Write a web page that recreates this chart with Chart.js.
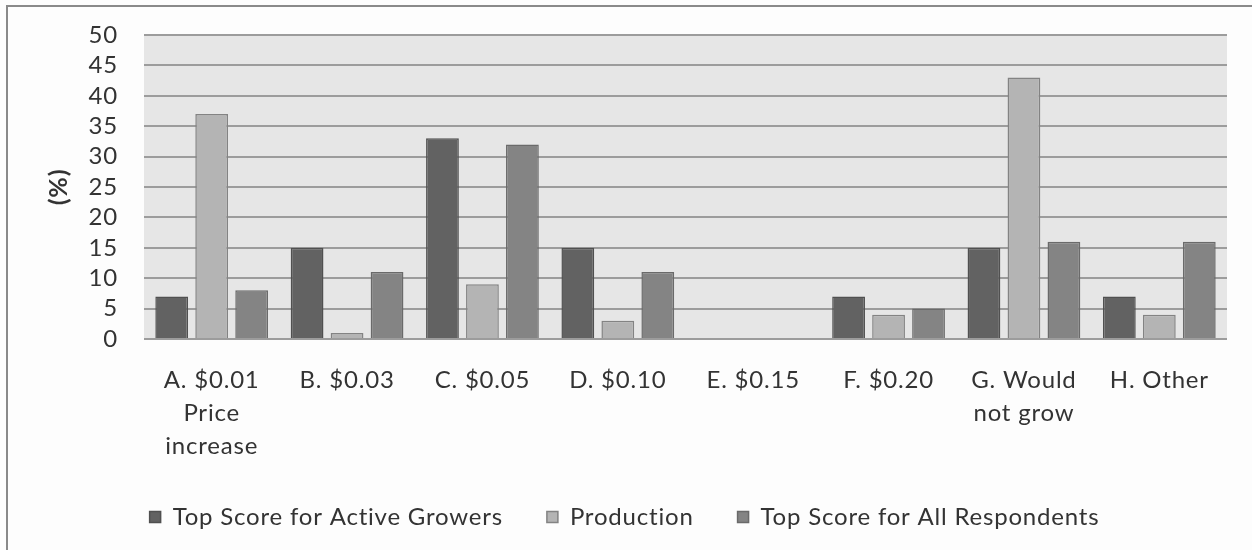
<!DOCTYPE html>
<html>
<head>
<meta charset="utf-8">
<script src="https://cdn.jsdelivr.net/npm/chart.js@4"></script>
<style>
  html, body { margin: 0; padding: 0; background: #fdfdfd; }
  #wrap { position: relative; width: 1252px; height: 550px; }
  #frame { position: absolute; left: 6px; top: 5px; right: -4px; bottom: -4px;
           border-left: 2px solid #8a8a8a; border-top: 2px solid #8a8a8a; pointer-events: none; }
  canvas { position: absolute; left: 0; top: 0; }
</style>
</head>
<body>
<div id="wrap">
  <canvas id="c" width="1252" height="550"></canvas>
  <div id="frame"></div>
</div>
<script>
// Categories (multi-line tick labels)
const categories = [
  ["A. $0.01", "Price", "increase"],
  ["B. $0.03"],
  ["C. $0.05"],
  ["D. $0.10"],
  ["E. $0.15"],
  ["F. $0.20"],
  ["G. Would", "not grow"],
  ["H. Other"]
];

// Series values (%)
const activeGrowers  = [7, 15, 33, 15, 0, 7, 15, 7];
const production     = [37, 1, 9, 3, 0, 4, 43, 4];
const allRespondents = [8, 11, 32, 11, 0, 5, 16, 16];

const seriesNames = ["Top Score for Active Growers", "Production", "Top Score for All Respondents"];

const FONT = "Lato, 'Open Sans', sans-serif";
const TEXT = "#333333";

// Slightly wider text spacing for all chart labels
const textSpacing = {
  id: "textSpacing",
  beforeInit(chart) { chart.ctx.letterSpacing = "0.8px"; },
  beforeLayout(chart) { chart.ctx.letterSpacing = "0.8px"; },
  beforeDraw(chart) { chart.ctx.letterSpacing = "0.8px"; }
};

// Light grey plot background behind the bars
const plotBackground = {
  id: "plotBackground",
  beforeDraw(chart) {
    const a = chart.chartArea, ctx = chart.ctx;
    ctx.save();
    ctx.fillStyle = "#e6e6e6";
    ctx.fillRect(a.left, a.top, a.right - a.left, a.bottom - a.top);
    ctx.restore();
  }
};

new Chart(document.getElementById("c"), {
  type: "bar",
  data: {
    labels: categories,
    datasets: [
      { label: seriesNames[0], data: activeGrowers,  backgroundColor: "#626262", borderColor: "#505050", borderWidth: 1.5 },
      { label: seriesNames[1], data: production,     backgroundColor: "#b4b4b4", borderColor: "#838383", borderWidth: 1.5 },
      { label: seriesNames[2], data: allRespondents, backgroundColor: "#848484", borderColor: "#6a6a6a", borderWidth: 1.5 }
    ]
  },
  options: {
    responsive: false,
    animation: false,
    devicePixelRatio: 1,
    layout: { padding: { left: 22, right: 25, top: 35, bottom: 11 } },
    datasets: { bar: { categoryPercentage: 0.886, barPercentage: 0.82 } },
    plugins: {
      tooltip: { enabled: false },
      legend: {
        position: "bottom",
        align: "center",
        labels: {
          boxWidth: 11, boxHeight: 11, padding: 44,
          font: { family: FONT, size: 24 }, color: TEXT
        }
      }
    },
    scales: {
      x: {
        grid: { display: false },
        border: { display: false },
        ticks: { font: { family: FONT, size: 24, lineHeight: 1.375 }, color: TEXT, padding: 17, maxRotation: 0, autoSkip: false },
        afterFit(scale) { scale.height = 122; }
      },
      y: {
        min: 0, max: 50,
        ticks: { stepSize: 5, autoSkip: false, font: { family: FONT, size: 24 }, color: TEXT, padding: 26 },
        grid: { color: "#9c9c9c", lineWidth: 2, drawTicks: false },
        border: { display: false },
        title: { display: true, text: "(%)", font: { family: FONT, size: 25, weight: "bold" }, color: TEXT, padding: { top: 22 } },
        afterFit(scale) { scale.width = 122; scale.paddingTop = 0; scale.paddingBottom = 0; }
      }
    }
  },
  plugins: [textSpacing, plotBackground]
});
</script>
</body>
</html>
